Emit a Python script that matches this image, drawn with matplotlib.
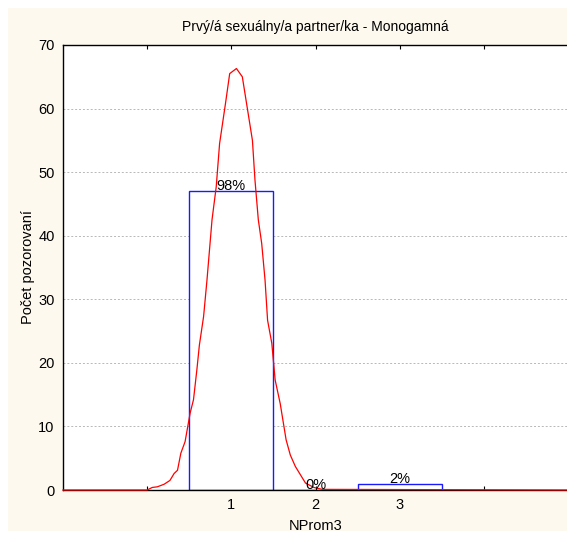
import matplotlib.pyplot as plt
from matplotlib.patches import Rectangle

plt.rcParams['font.family'] = ['Liberation Sans', 'DejaVu Sans']

# histogram data
categories = [1, 2, 3]
counts = [47, 0, 1]
pct_labels = ['98%', '0%', '2%']

# red fitted curve
curve_x = [-1.0, 0.0, 0.06, 0.12, 0.20, 0.27, 0.32, 0.36, 0.40, 0.45, 0.51, 0.55,
           0.59, 0.62, 0.67, 0.71, 0.77, 0.82, 0.86, 0.93, 0.98, 1.06, 1.13, 1.19,
           1.25, 1.28, 1.32, 1.36, 1.40, 1.43, 1.48, 1.52, 1.58, 1.65, 1.70, 1.76,
           1.88, 1.98, 2.08, 5.0]
curve_y = [0.0, 0.0, 0.4, 0.5, 0.9, 1.5, 2.6, 3.1, 5.8, 7.6, 12.1, 14.2,
           18.9, 22.8, 27.3, 33.0, 42.5, 47.7, 54.5, 60.8, 65.5, 66.3, 65.0, 60.0,
           55.0, 48.8, 42.5, 38.8, 33.0, 26.7, 23.1, 17.3, 13.6, 7.9, 5.5, 3.7,
           1.1, 0.4, 0.1, 0.0]

xticks = [0, 1, 2, 3, 4]
xtick_labels = ['', '1', '2', '3', '']

fig = plt.figure(figsize=(5.67, 5.33), dpi=100, facecolor='white')
# cream panel
fig.patches.append(Rectangle((8 / 567, 2 / 533), 1, 1 - 10 / 533, transform=fig.transFigure,
                             facecolor='#fdf9ee', edgecolor='none', zorder=-1))

ax = fig.add_axes([63 / 567, 43 / 533, 1 - 63 / 567 + 0.002, (490 - 45) / 533])
ax.set_facecolor('white')

ax.bar(categories, counts, width=1.0, facecolor='white', edgecolor='#1a1aff',
       linewidth=1.0, zorder=2)
for c, n, lab in zip(categories, counts, pct_labels):
    ax.text(c, n - 0.3, lab, ha='center', va='bottom', fontsize=10.5, zorder=4)

ax.plot(curve_x, curve_y, color='#ff0000', linewidth=0.9, zorder=3, clip_on=False)

ax.set_xlim(-1, 5)
ax.set_ylim(0, 70)
ax.set_yticks(range(0, 71, 10))
ax.set_xticks(xticks)
ax.set_xticklabels(xtick_labels)
ax.tick_params(axis='x', direction='in', length=3, width=0.8, top=True, labelsize=10.5, pad=6)
ax.tick_params(axis='y', length=0, labelsize=10.5, pad=6)
ax.yaxis.grid(True, linestyle=(0, (2, 2)), color='#b8b8b8', linewidth=0.7)
ax.set_axisbelow(True)

for side in ['left', 'top', 'bottom']:
    ax.spines[side].set_color('black')
    ax.spines[side].set_linewidth(1.0)
ax.spines['right'].set_visible(False)

ax.set_title('Prvý/á sexuálny/a partner/ka - Monogamná', fontsize=10, pad=10)
ax.set_xlabel('NProm3', fontsize=10.5, labelpad=5)
ax.set_ylabel('Počet pozorovaní', fontsize=10.5)
ax.yaxis.set_label_coords(-0.056, 0.5)

fig.savefig('out.png', dpi=100)
